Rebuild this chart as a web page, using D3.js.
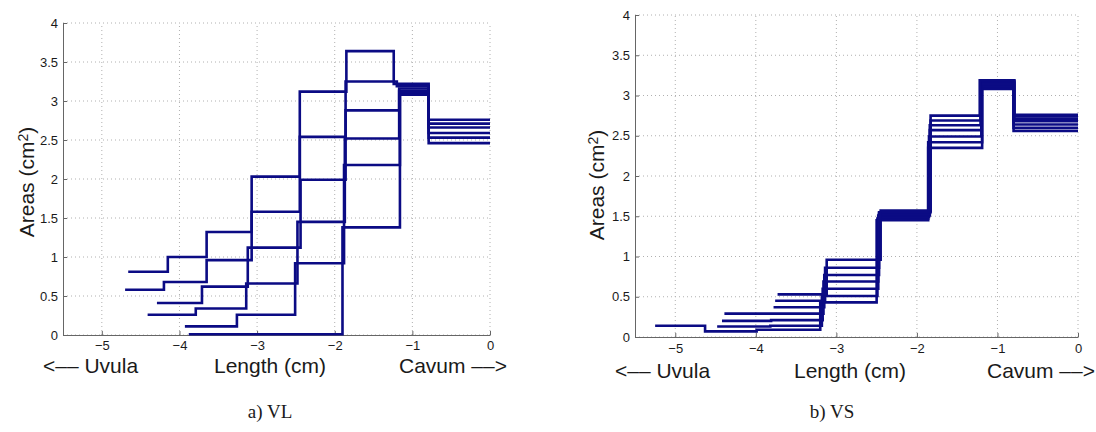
<!DOCTYPE html>
<html lang="en">
<head>
<meta charset="utf-8">
<style>
  body {margin: 0; background: #fff;}
  svg text {font-family: "Liberation Sans", Arial, Helvetica, sans-serif; fill: #1a1a1a;}
  .caption {font-family: "Liberation Serif", "Times New Roman", serif !important;}
</style>
</head>
<body>
<svg id="chart" width="1096" height="432"></svg>
<script src="https://d3js.org/d3.v7.min.js"></script>
<script>
// tick values shared by both panels
var xTicks = [-5, -4, -3, -2, -1, 0];
var yTicks = [0, 0.5, 1, 1.5, 2, 2.5, 3, 3.5, 4];

// a) VL : section boundaries (cm, uvula -> cavum) and area of each section (cm^2)
var vlEdges = [
  [-4.66, -4.15, -3.65, -3.07, -2.45, -1.85, -1.24, -0.79, 0],
  [-4.70, -4.20, -3.65, -3.07, -2.45, -1.86, -1.20, -0.79, 0],
  [-4.29, -3.71, -3.12, -2.44, -1.86, -1.17, -0.79, 0],
  [-4.41, -3.79, -3.14, -2.48, -1.87, -1.17, -0.79, 0],
  [-3.93, -3.26, -2.51, -1.88, -1.16, -0.79, 0],
  [-3.88, -1.90, -1.16, -0.79, 0]
];
var vlAreas = [
  [0.81, 1.00, 1.32, 2.03, 3.12, 3.64, 3.22, 2.76],
  [0.58, 0.68, 0.96, 1.58, 2.54, 3.25, 3.19, 2.71],
  [0.41, 0.62, 1.12, 1.99, 2.88, 3.16, 2.66],
  [0.26, 0.34, 0.66, 1.45, 2.52, 3.13, 2.59],
  [0.11, 0.26, 0.92, 2.18, 3.10, 2.53],
  [0.01, 1.38, 3.08, 2.46]
];

// b) VS
var vsEdges = [
  [-5.25, -4.63, -3.99, -3.20, -2.50, -1.86, -1.19, -0.80, 0],
  [-4.48, -3.82, -3.18, -2.49, -1.86, -1.19, -0.80, 0],
  [-4.42, -3.81, -3.17, -2.48, -1.85, -1.20, -0.80, 0],
  [-4.39, -3.80, -3.16, -2.48, -1.84, -1.20, -0.80, 0],
  [-3.78, -3.15, -2.47, -1.84, -1.21, -0.79, 0],
  [-3.76, -3.14, -2.47, -1.83, -1.21, -0.79, 0],
  [-3.73, -3.12, -2.45, -1.83, -1.22, -0.79, 0]
];
var vsAreas = [
  [0.14, 0.07, 0.09, 0.43, 1.45, 2.35, 3.08, 2.56],
  [0.13, 0.14, 0.51, 1.47, 2.42, 3.10, 2.60],
  [0.20, 0.21, 0.60, 1.49, 2.49, 3.12, 2.64],
  [0.29, 0.29, 0.69, 1.51, 2.57, 3.14, 2.68],
  [0.37, 0.77, 1.53, 2.63, 3.16, 2.71],
  [0.45, 0.86, 1.55, 2.69, 3.18, 2.74],
  [0.53, 0.96, 1.57, 2.75, 3.19, 2.76]
];

var svg = d3.select("#chart");

var panels = [
  {edges: vlEdges, areas: vlAreas, caption: "a) VL",
   left: 63, right: 490, top: 23, bottom: 335, tickPad: 6,
   ylabX: 34, ylabY: 182, xlabY: 373, labL: 43, labM: 270, labR: 507, capX: 270},
  {edges: vsEdges, areas: vsAreas, caption: "b) VS",
   left: 635, right: 1078, top: 15, bottom: 337, tickPad: 7,
   ylabX: 604, ylabY: 185, xlabY: 378, labL: 615, labM: 850, labR: 1095, capX: 832}
];

panels.forEach(function(p) {
  var x = d3.scaleLinear().domain([-5.5, 0]).range([p.left, p.right]);
  var y = d3.scaleLinear().domain([0, 4]).range([p.bottom, p.top]);
  var g = svg.append("g");

  // dotted grid
  g.selectAll(".gx").data(xTicks).enter().append("line")
    .attr("x1", x).attr("x2", x)
    .attr("y1", y(0)).attr("y2", y(4))
    .attr("stroke", "#b0b0b0").attr("stroke-dasharray", "1,3");
  g.selectAll(".gy").data(yTicks).enter().append("line")
    .attr("x1", x(-5.5)).attr("x2", x(0))
    .attr("y1", y).attr("y2", y)
    .attr("stroke", "#b0b0b0").attr("stroke-dasharray", "1,3");

  // axes, ticks pointing inward like matlab
  var xa = g.append("g").attr("transform", "translate(0," + y(0) + ")")
    .call(d3.axisBottom(x).tickValues(xTicks).tickSizeInner(-4).tickSizeOuter(0)
      .tickPadding(p.tickPad).tickFormat(d3.format("~g")));
  var ya = g.append("g").attr("transform", "translate(" + x(-5.5) + ",0)")
    .call(d3.axisLeft(y).tickValues(yTicks).tickSizeInner(-4).tickSizeOuter(0).tickPadding(5)
      .tickFormat(d3.format("~g")));
  [xa, ya].forEach(function(a) {
    a.select(".domain").attr("stroke", "#666");
    a.selectAll(".tick line").attr("stroke", "#666");
    a.selectAll("text").attr("font-size", 13).attr("fill", "#1a1a1a")
      .attr("font-family", "'Liberation Sans', Arial, sans-serif");
  });

  // step curves
  var line = d3.line()
    .x(function(d) { return x(d[0]); })
    .y(function(d) { return y(d[1]); })
    .curve(d3.curveStepAfter);

  p.edges.forEach(function(e, i) {
    var a = p.areas[i];
    var pts = a.map(function(v, j) { return [e[j], v]; });
    pts.push([e[e.length - 1], a[a.length - 1]]);
    g.append("path").datum(pts)
      .attr("d", line)
      .attr("fill", "none")
      .attr("stroke", "#0b0b84")
      .attr("stroke-width", 2.6);
  });

  // y label
  var yl = g.append("text")
    .attr("transform", "translate(" + p.ylabX + "," + p.ylabY + ") rotate(-90)")
    .attr("text-anchor", "middle")
    .attr("font-size", 21);
  yl.append("tspan").text("Areas (cm");
  yl.append("tspan").attr("dy", "-0.45em").attr("font-size", 14).text("2");
  yl.append("tspan").attr("dy", "0.3em").text(")");

  // x label pieces
  g.append("text").attr("x", p.labL).attr("y", p.xlabY)
    .attr("font-size", 21).attr("text-anchor", "start").text("<–– Uvula");
  g.append("text").attr("x", p.labM).attr("y", p.xlabY)
    .attr("font-size", 21).attr("text-anchor", "middle").text("Length (cm)");
  g.append("text").attr("x", p.labR).attr("y", p.xlabY)
    .attr("font-size", 21).attr("text-anchor", "end").text("Cavum ––>");

  // caption
  g.append("text").attr("class", "caption")
    .attr("x", p.capX).attr("y", 418)
    .attr("font-size", 19).attr("text-anchor", "middle")
    .text(p.caption);
});
</script>
</body>
</html>
